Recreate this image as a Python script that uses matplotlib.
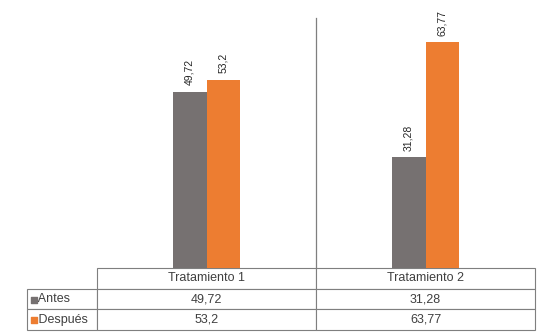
import matplotlib.pyplot as plt
import numpy as np

plt.rcParams['font.family'] = ['Liberation Sans', 'DejaVu Sans']

# datos
categorias = ['Tratamiento 1', 'Tratamiento 2']
antes = [49.72, 31.28]
despues = [53.2, 63.77]
series = ['Antes', 'Después']
colores = ['#767171', '#ED7D31']


def fmt(v):
    return f'{v:g}'.replace('.', ',')


fig = plt.figure(figsize=(5.37, 3.33), dpi=100)
ax = fig.add_axes([97 / 537, 65 / 333, 438 / 537, 248 / 333])

x = np.arange(len(categorias))
w = 0.155
for j, (vals, col) in enumerate(zip([antes, despues], colores)):
    bars = ax.bar(x + (j - 0.5) * w, vals, width=w, color=col)
    for b, v in zip(bars, vals):
        ax.text(b.get_x() + b.get_width() / 2, v + 1.8, fmt(v), rotation=90,
                ha='center', va='bottom', fontsize=7.5, color='#262626')

ax.set_xlim(-0.5, 1.5)
ax.set_ylim(0, 70)
ax.axvline(0.5, color='#7f7f7f', lw=0.9, clip_on=False, ymax=1.01)
for s in ax.spines.values():
    s.set_visible(False)
ax.set_xticks([])
ax.set_yticks([])

# tabla de datos (primera columna = etiquetas de serie)
lab_w = 70 / 438
filas = [['   ' + s] + [fmt(v) for v in vals]
         for s, vals in zip(series, [antes, despues])]
tab = ax.table(cellText=filas, colLabels=[''] + categorias, cellLoc='center',
               colWidths=[lab_w, 0.5, 0.5],
               bbox=[-lab_w, -62 / 248, 1 + lab_w, 62 / 248])
tab.auto_set_font_size(False)
for (r, c), cell in tab.get_celld().items():
    cell.set_edgecolor('#7f7f7f')
    cell.set_linewidth(0.8)
    cell.get_text().set_fontsize(9)
    cell.get_text().set_color('#404040')
    if c == 0:
        cell.get_text().set_ha('left')
        cell.PAD = 0.02
    if r == 0 and c == 0:
        cell.visible_edges = ''

# cuadritos de leyenda
for i, col in enumerate(colores):
    yc = -62 / 248 + (40 - 20 * i - 10) / 248
    ax.scatter([-lab_w + 0.017], [yc], marker='s', s=18, color=col,
               transform=ax.transAxes, clip_on=False)

plt.savefig('out.png', dpi=100)
